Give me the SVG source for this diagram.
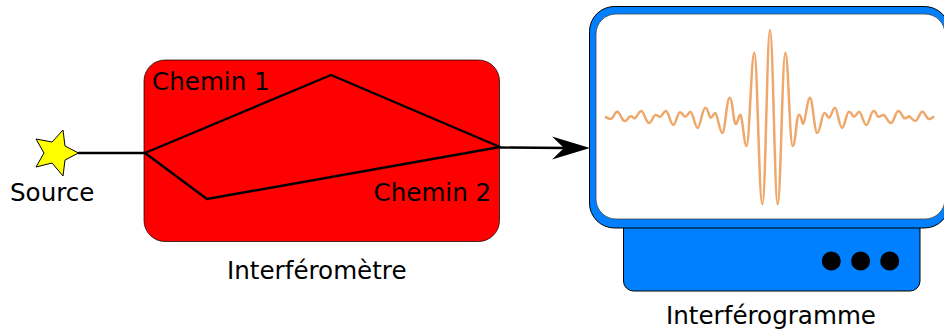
<svg xmlns="http://www.w3.org/2000/svg" width="944" height="333" viewBox="0 0 944 333">
<style>
text{font-family:"DejaVu Sans",sans-serif;font-size:24.600px;fill:#000}
.o{stroke:#000;stroke-width:1;stroke-linejoin:round}
.l{fill:none;stroke:#000;stroke-width:2.400;stroke-linejoin:round}
</style>
<g id="interferometre">
<rect class="o" x="144" y="60" width="355.500" height="181.500" rx="21" fill="#f00" stroke-opacity=".7"/>
<text x="152" y="90">Chemin 1</text>
<text x="373.500" y="201">Chemin 2</text>
<text x="227" y="279">Interféromètre</text>
</g>
<g id="source">
<polygon class="o" points="78.500,153 65,146 63,130 52,142 36,139 44,153 36,167 52,163 63,176 65,160" fill="#ff0"/>
<text x="10" y="201">Source</text>
</g>
<g id="interferogramme">
<rect class="o" x="623.500" y="210" width="296.500" height="81" rx="10" fill="#007fff"/>
<rect class="o" x="589.500" y="6.500" width="360" height="221.500" rx="25" fill="#007fff"/>
<rect x="596" y="14" width="349" height="205" rx="20" fill="#fff" stroke="#444" stroke-width=".8"/>
<path fill="none" stroke="#eea86c" stroke-width="7.500" transform="translate(590 10) scale(.33333)" d="M45 320C50 323 55 327 62 327S74 305 82 305S95 333 104 333S115 319 122 319S129 325 134 325S146 303 154 303S168 339 177 339S189 315 197 315S205 321 210 321S221 303 228 303S242 345 250 345S262 307 270 307S280 320 286 320S296 305 302 305S315 354 323 354S337 293 346 293S356 323 362 323S370 309 376 309S389 369 397 369S410 263 419 263S430 342 437 342S445 314 451 314S462 408 470 408S484 128 493 128S507 583 517 583S531 60 540 60S554 583 563 583S577 128 586 128S599 408 608 408S619 314 627 314S635 342 640 342S652 263 660 263S673 369 682 369S695 309 703 309S711 323 717 323S728 293 735 293S748 354 756 354S769 305 777 305S786 320 792 320S802 305 808 305S821 345 829 345S842 303 851 303S859 320 865 320S875 315 881 315S894 339 903 339S916 303 925 303S937 325 945 325S952 319 957 319S968 333 976 333S989 305 997 305S1009 327 1017 327S1027 320 1033 320"/>
<circle cx="831.300" cy="261" r="9.500"/>
<circle cx="860.600" cy="261" r="9.500"/>
<circle cx="889.700" cy="261" r="9.500"/>
<text x="666" y="324">Interférogramme</text>
</g>
<g id="connectors">
<path class="l" d="M78 153H145"/>
<path class="l" d="M145 153L331 75L500 147L207 199Z"/>
<path class="l" d="M500 147.500L566 148"/>
<polygon points="590,148 552,136.500 564,148 552,159.500"/>
</g>
</svg>
